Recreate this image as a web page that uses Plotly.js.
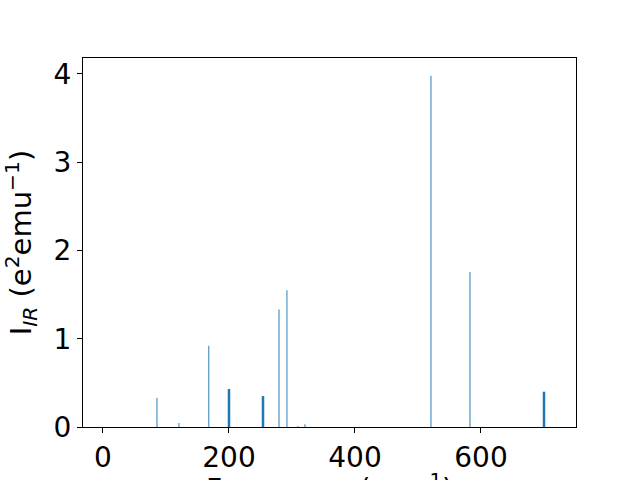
<!DOCTYPE html>
<html>
<head>
<meta charset="utf-8">
<script src="https://cdn.plot.ly/plotly-3.0.1.min.js"></script>
<style>html,body{margin:0;padding:0;background:#fff;}#chart{width:640px;height:480px;}</style>
</head>
<body>
<div id="chart"></div>
<script>
// Frequencies (cm^-1) and IR intensities (e^2 emu^-1)
const frequencies = [85.7, 120.6, 168, 200, 254, 279.4, 292, 309.5, 320.6, 520.6, 582.5, 700];
const intensities = [0.33, 0.045, 0.92, 0.43, 0.35, 1.33, 1.55, 0.01, 0.03, 3.98, 1.755, 0.40];
const xTickValues = [0, 200, 400, 600];
const yTickValues = [0, 1, 2, 3, 4];
const xTitle = 'Frequency (cm<sup>−1</sup>)';
const yTitle = 'I<sub><i>IR</i></sub> (e<sup>2</sup>emu<sup>−1</sup>)';

const barWidths = frequencies.map((f, i) => [3, 4, 11].includes(i) ? 4 : 1.5);

const trace = {
  type: 'bar',
  x: frequencies,
  y: intensities,
  width: barWidths,
  marker: {color: '#1f77b4', line: {width: 0}},
  hoverinfo: 'x+y'
};

const FONT = 'DejaVu Sans, sans-serif';
const layout = {
  width: 640, height: 480,
  paper_bgcolor: '#fff', plot_bgcolor: '#fff',
  margin: {l: 83, r: 64, t: 58, b: 53},
  showlegend: false,
  font: {family: FONT, color: '#000'},
  xaxis: {
    range: [-31.7, 750.8],
    tickvals: xTickValues,
    ticktext: xTickValues.map(String),
    ticks: 'outside', ticklen: 5, tickwidth: 1, tickcolor: '#000',
    showline: true, linecolor: '#000', linewidth: 1, mirror: true,
    showgrid: false, zeroline: false,
    tickfont: {family: FONT, size: 28, color: '#000'},
    automargin: false
  },
  yaxis: {
    range: [0, 4.18],
    tickvals: yTickValues,
    ticktext: yTickValues.map(String),
    ticks: 'outside', ticklen: 5, tickwidth: 1, tickcolor: '#000',
    showline: true, linecolor: '#000', linewidth: 1, mirror: true,
    showgrid: false, zeroline: false,
    tickfont: {family: FONT, size: 28, color: '#000'},
    title: {text: yTitle, font: {family: FONT, size: 29, color: '#000'}},
    automargin: false
  },
  annotations: [{
    text: xTitle, xref: 'paper', yref: 'paper', x: 0.5, y: -0.109,
    xanchor: 'center', yanchor: 'top', showarrow: false,
    font: {family: FONT, size: 28, color: '#000'}
  }]
};

Plotly.newPlot('chart', [trace], layout, {displayModeBar: false, staticPlot: true});
</script>
</body>
</html>
